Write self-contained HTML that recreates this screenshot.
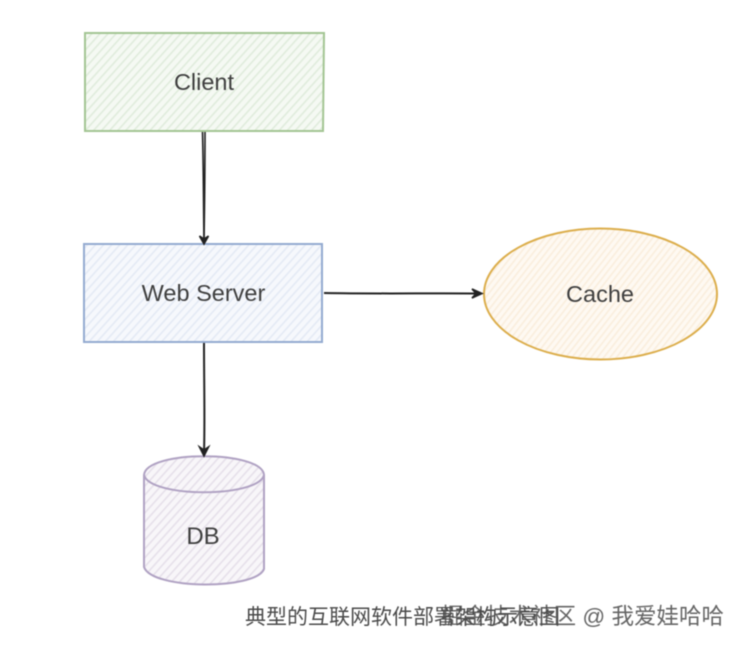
<!DOCTYPE html>
<html><head><meta charset="utf-8"><style>
html,body{margin:0;padding:0;background:#fff;width:744px;height:648px;overflow:hidden}
svg{display:block;filter:blur(.45px)}
text{font-family:"Liberation Sans",sans-serif;fill:#3f3f3f}
.cjk{font-family:"Liberation Sans","Noto Sans CJK SC",sans-serif;fill:#4a4a4a}
</style></head><body>
<svg width="744" height="648" viewBox="0 0 744 648" xmlns="http://www.w3.org/2000/svg">
<defs>
<pattern id="g" width="6" height="6" patternUnits="userSpaceOnUse" patternTransform="rotate(-48)"><rect width="6" height="6" fill="#f5f9f3"/><rect y="0" width="6" height="1.6" fill="#e0ecdc"/></pattern>
<pattern id="b" width="6" height="6" patternUnits="userSpaceOnUse" patternTransform="rotate(-48)"><rect width="6" height="6" fill="#f6f8fc"/><rect y="0" width="6" height="1.6" fill="#e4eaf5"/></pattern>
<pattern id="o" width="5" height="5" patternUnits="userSpaceOnUse" patternTransform="rotate(-52)"><rect width="5" height="5" fill="#fef9f2"/><rect y="0" width="5" height="1.6" fill="#faeedd"/></pattern>
<pattern id="p" width="6" height="6" patternUnits="userSpaceOnUse" patternTransform="rotate(-48)"><rect width="6" height="6" fill="#f8f6f9"/><rect y="0" width="6" height="1.6" fill="#e6e0ea"/></pattern>
</defs>
<path d="M85 33 L324 33 L323 131 L85 131 Z" fill="url(#g)" stroke="#a3c593" stroke-width="2"/>
<path d="M84 244 L322 244 L322 342 L84 342 Z" fill="url(#b)" stroke="#94abd0" stroke-width="2"/>
<ellipse cx="600.500" cy="294" rx="116.500" ry="65.500" fill="url(#o)" stroke="#dcae4c" stroke-width="2"/>
<path d="M144 475 L144 567 C152 590 256 590 264 569 L264 475 C262 450 146 450 144 475 Z" fill="url(#p)" stroke="#b0a2c3" stroke-width="2"/>
<path d="M144 475 C150 498 258 498 264 475" fill="none" stroke="#b0a2c3" stroke-width="2"/>
<g fill="none" stroke="#222" stroke-width="1.600">
<path d="M202.500 132 C203.500 170 203.500 210 204 241"/>
<path d="M205 132 C205 170 204.500 210 204 241"/>
<path d="M199.500 236 L204 244 L208.500 236 L204 239 Z" fill="#222"/>
<path d="M324 293 C380 294 430 293 480 293.500" stroke-width="2"/>
<path d="M472 289 L482 293.500 L472 298 L476 293.500 Z" fill="#222"/>
<path d="M204 343 C204 380 205 420 204 453" stroke-width="2"/>
<path d="M199.500 447 L204 456 L208.500 447 L204 450 Z" fill="#222"/>
</g>
<text x="204" y="90" font-size="23.500" text-anchor="middle">Client</text>
<text x="203.500" y="301" font-size="23.500" text-anchor="middle">Web Server</text>
<text x="600" y="302" font-size="23.500" text-anchor="middle">Cache</text>
<text x="203" y="544" font-size="24" text-anchor="middle">DB</text>
<text class="cjk" x="245" y="624" font-size="21">典型的互联网软件部署架构示意图</text>
<text class="cjk" x="724" y="624" font-size="22.500" text-anchor="end" opacity=".85">掘金技术社区 @ 我爱娃哈哈</text>
</svg>
</body></html>
